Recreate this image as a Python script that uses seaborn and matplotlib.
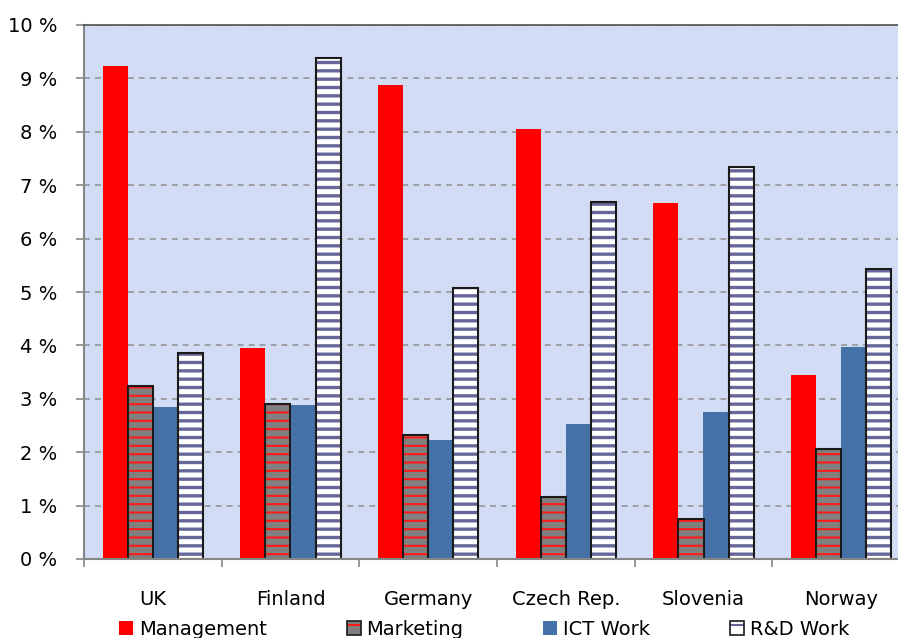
import matplotlib
matplotlib.use("Agg")
import matplotlib.pyplot as plt
import matplotlib.patches as mpatches
from matplotlib.legend_handler import HandlerTuple
import seaborn as sns
import pandas as pd

# ---- data (percent) ----
countries = ["UK", "Finland", "Germany", "Czech Rep.", "Slovenia", "Norway"]
series = ["Management", "Marketing", "ICT Work", "R&D Work"]
management = [9.24, 3.95, 8.88, 8.05, 6.67, 3.45]
marketing = [3.24, 2.91, 2.33, 1.16, 0.74, 2.06]
ict_work = [2.85, 2.89, 2.22, 2.53, 2.76, 3.97]
rd_work = [3.85, 9.39, 5.07, 6.69, 7.35, 5.44]
ytick_values = list(range(0, 11))
ytick_labels = [f"{v} %" for v in ytick_values]

values = [management, marketing, ict_work, rd_work]
df = pd.DataFrame(
    [(c, s, v) for s, vals in zip(series, values) for c, v in zip(countries, vals)],
    columns=["country", "series", "value"],
)

sns.set_theme(style="white")
plt.rcParams["font.family"] = ["DejaVu Sans"]
plt.rcParams["text.color"] = "black"
plt.rcParams["hatch.linewidth"] = 1.5
plt.rcParams["lines.scale_dashes"] = False

fig = plt.figure(figsize=(8.98, 6.38), dpi=100)
ax = fig.add_axes([84 / 898, 79 / 638, 826 / 898, 534 / 638])
ax.set_facecolor("#d3dcf5")

face_colors = ["#ff0000", "#808080", "#4472a8", "#ffffff"]
sns.barplot(data=df, x="country", y="value", hue="series", hue_order=series,
            palette=face_colors, width=0.73, saturation=1, ax=ax, legend=False)

red_hatch = "#ff1a1a"
rd_stripe = "#66669a"
for i, cont in enumerate(ax.containers):
    for p in cont.patches:
        if i == 0 or i == 2:
            p.set_edgecolor(p.get_facecolor())
            p.set_linewidth(0)
        elif i == 1:
            p.set_edgecolor(red_hatch)
            p.set_hatch("--")
            p.set_linewidth(0)
            ax.add_patch(mpatches.Rectangle(p.get_xy(), p.get_width(), p.get_height(),
                                            fill=False, ec="#1a1a1a", lw=1.5, zorder=p.get_zorder() + 0.1))
        else:
            p.set_edgecolor(rd_stripe)
            p.set_hatch("--")
            p.set_linewidth(0)
            if hasattr(p, "set_hatch_linewidth"):
                p.set_hatch_linewidth(2.4)
            ax.add_patch(mpatches.Rectangle(p.get_xy(), p.get_width(), p.get_height(),
                                            fill=False, ec="#1a1a1a", lw=1.5, zorder=p.get_zorder() + 0.1))

ax.set_ylim(0, 10)
ax.set_xlim(-0.5, len(countries) - 0.5)
ax.set_yticks(ytick_values)
ax.set_yticklabels(ytick_labels)
ax.set_xlabel("")
ax.set_ylabel("")

ax.set_axisbelow(True)
ax.yaxis.grid(True, color="#909090", linestyle=(0, (4.3, 3.6)), linewidth=1.1)
ax.xaxis.grid(False)

ax.spines["right"].set_visible(False)
ax.spines["left"].set_color("#868686")
ax.spines["left"].set_linewidth(1.5)
ax.spines["bottom"].set_color("#868686")
ax.spines["bottom"].set_linewidth(1.5)
ax.spines["top"].set_color("#505050")
ax.spines["top"].set_linewidth(1.2)

ax.tick_params(axis="y", which="major", left=True, length=6, width=1.2, color="#868686",
               pad=13, labelsize=14, labelcolor="black")
ax.set_xticks(range(len(countries)))
ax.set_xticklabels(countries)
ax.set_xticks([k - 0.5 for k in range(len(countries) + 1)], minor=True)
ax.tick_params(axis="x", which="major", bottom=False, length=0, pad=22, labelsize=14, labelcolor="black")
ax.tick_params(axis="x", which="minor", bottom=True, length=6, width=1.2, color="#868686")

# legend
h_mgmt = mpatches.Patch(facecolor="#ff0000", edgecolor="#ff0000", lw=0)
h_mkt = (mpatches.Patch(facecolor="#808080", edgecolor=red_hatch, hatch="-", lw=0),
         mpatches.Patch(fill=False, edgecolor="#1a1a1a", lw=1.2))
h_ict = mpatches.Patch(facecolor="#4472a8", edgecolor="#4472a8", lw=0)
h_rd = (mpatches.Patch(facecolor="#ffffff", edgecolor=rd_stripe, hatch="-", lw=0),
        mpatches.Patch(fill=False, edgecolor="#1a1a1a", lw=1.2))
fig.legend([h_mgmt, h_mkt, h_ict, h_rd], series, loc="center", bbox_to_anchor=(0.539, 0.014),
           ncol=4, frameon=False, fontsize=14, handlelength=0.72, handleheight=0.72,
           handletextpad=0.3, columnspacing=4.1, borderpad=0, labelcolor="black",
           handler_map={tuple: HandlerTuple(ndivide=1)})

fig.savefig("out.png", dpi=100)
